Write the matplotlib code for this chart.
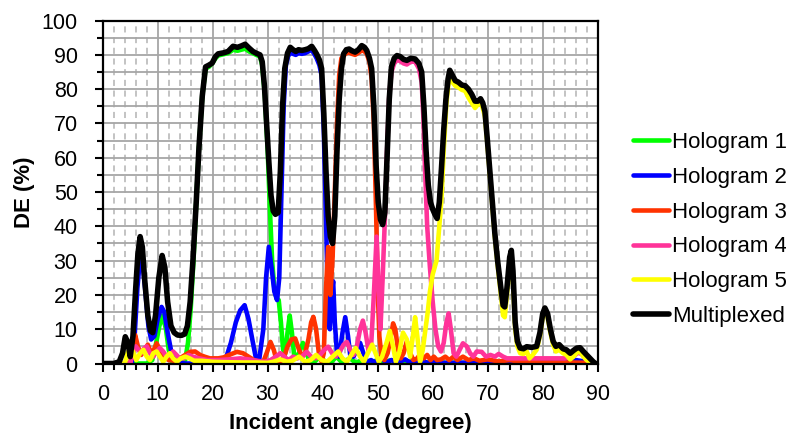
import numpy as np
import matplotlib
matplotlib.use("Agg")
from matplotlib import pyplot as plt
from matplotlib.ticker import MultipleLocator

plt.rcParams['font.family'] = ['Liberation Sans', 'DejaVu Sans']

# Hologram 1 (green)
h1_x = [0, 8, 9, 9.6, 10.3, 10.9, 11.5, 12.0, 12.6, 14.0, 15.0, 15.5, 16.0, 16.5, 17.0, 17.5, 18.1, 18.7,
        19.3, 19.9, 20.5, 21.0, 22.0, 22.8, 23.7, 24.5, 25.2, 25.9, 26.6, 27.3, 27.9, 28.6, 29.0, 29.5,
        30.0, 30.4, 30.8, 31.2, 31.6, 32.0, 32.4, 32.8, 33.2, 33.6, 34.0, 34.4, 34.8, 35.2, 35.8, 36.4,
        36.9, 37.5, 38.5, 39.5, 40.5, 41.5, 42.5, 43.5, 45, 46, 47.5, 48.5, 50, 51, 52.5, 54, 56, 60, 70, 89]
h1_y = [0, 0, 1, 5, 11, 14, 10, 4, 0.5, 0, 1, 6, 16, 30, 47, 63, 78, 86,
        86.5, 87.5, 89, 89.8, 90.2, 90.5, 91.5, 91.2, 91.5, 91.8, 91, 90.5, 90, 89.5, 87, 78,
        62, 45, 30, 22, 19, 18.5, 12, 4, 3, 9, 14, 9, 2.5, 1.5, 3.5, 6,
        4, 1, 0.5, 2, 0.5, 0.3, 2, 0.3, 1.5, 0.2, 1.2, 0.2, 1, 0.2, 1, 0.2, 0.5, 0.2, 0.1, 0]

# Hologram 2 (blue)
h2_x = [0, 5.3, 5.8, 6.3, 6.8, 7.2, 7.7, 8.3, 8.8, 9.4, 10.0, 10.7, 11.2, 11.8, 12.4, 13.0, 14.0, 15.0,
        21.5, 22.5, 23.3, 24.2, 25.0, 25.8, 26.5, 27.2, 27.8, 28.4, 29.2, 29.7, 30.2, 30.7, 31.2, 31.7,
        32.1, 32.5, 32.9, 33.3, 33.7, 34.1, 34.6, 35.1, 35.6, 36.2, 36.8, 37.4, 38.0, 38.5, 38.9, 39.4,
        39.8, 40.2, 40.6, 41.0, 41.3, 41.6, 41.9, 42.2, 42.6, 43.0, 43.6, 44.1, 44.6, 45.0, 45.6, 46.2,
        46.8, 47.4, 48.0, 48.8, 49.5, 50.5, 51.5, 52.5, 53.5, 55, 56, 58, 59, 60, 62, 70, 80, 86, 88, 89]
h2_y = [0, 0, 8, 22, 31, 30, 22, 11, 7, 8, 13, 16.5, 15, 9, 4, 1.5, 0.2, 0,
        0, 2, 6, 12, 15.5, 17, 13, 7, 2, 0.5, 10, 25, 34, 28, 21, 18.5,
        25, 50, 75, 87, 89.5, 90.8, 90.3, 90, 90.5, 90.3, 90.5, 91, 91.5, 90.2, 89, 87,
        84, 68, 42, 15, 10, 20, 24, 12, 3, 2, 9, 13.5, 8, 2.5, 2, 4,
        6, 3, 0.5, 1, 0.3, 2, 0.2, 1, 0.2, 1.2, 0.2, 1, 0.2, 0.5, 0.2, 0.3, 0.5, 1, 0.5, 0]

# Hologram 3 (red)
h3_x = [0, 5.0, 5.5, 5.9, 6.4, 7.0, 7.6, 8.2, 8.8, 9.3, 9.8, 10.4, 11.0, 12.0, 13.0, 14.0, 15.0, 15.9,
        16.8, 17.7, 18.5, 19.5, 21, 22, 23, 24.4, 25.5, 26.5, 27.5, 28.5, 29.2, 29.8, 30.5, 31.1, 31.6,
        32.3, 33, 33.6, 34.3, 35.0, 35.7, 36.3, 36.8, 37.4, 37.9, 38.3, 38.8, 39.3, 39.8, 40.2, 40.6,
        41.0, 41.4, 41.8, 42.2, 42.6, 43.0, 43.4, 43.8, 44.3, 44.8, 45.3, 45.9, 46.5, 47.1, 47.6, 48.0,
        48.5, 48.9, 49.3, 49.7, 50.0, 50.3, 50.7, 51.2, 51.8, 52.3, 52.8, 53.2, 53.7, 54.2, 54.7, 55.3,
        55.9, 56.5, 57.2, 57.8, 58.4, 59.0, 59.6, 60.2, 60.8, 61.5, 62.3, 63.0, 63.8, 64.5, 65.5, 66.5,
        67.5, 68.5, 70, 72, 74, 76, 80, 85, 88]
h3_y = [0, 0, 6, 8.3, 5, 2.5, 4, 5.5, 3, 4, 5.9, 4, 2, 1, 0.8, 1.5, 2.5, 3.4,
        3.5, 2.5, 2, 1.5, 1.5, 1.8, 2.5, 3.4, 3, 2, 1, 0.5, 0.5, 3, 6.3, 4, 1,
        0.5, 2, 5, 7, 7.3, 4, 2, 3, 7, 12, 13.6, 10, 3, 0.5, 3, 22,
        34, 20, 31, 50, 70, 84, 89, 89.8, 90.5, 90.7, 90.3, 90, 90.6, 91.3, 91, 90.3,
        88, 83, 70, 45, 22, 8, 2, 1, 3, 7, 11.7, 10, 4, 1.5, 3, 6.5,
        3, 1, 1.5, 3, 1.5, 2.5, 1, 2, 1, 1.2, 2, 1, 2, 1, 2, 1,
        1.5, 0.8, 1.2, 0.6, 1, 0.5, 0.3, 0.3, 0.2]

# Hologram 4 (pink)
h4_x = [0, 5.0, 5.5, 6.0, 6.5, 7.0, 7.5, 8.0, 8.6, 9.2, 9.8, 10.4, 11.0, 11.6, 12.2, 12.8, 13.4, 14.0,
        14.8, 15.6, 16.4, 17.5, 19, 21, 23, 25, 26.5, 28, 29.5, 30.5, 31.5, 32.3, 33.0, 33.8, 34.6, 35.4,
        36.2, 37.1, 37.9, 38.7, 39.5, 40.3, 41.0, 41.7, 42.4, 43.1, 43.8, 44.4, 45.0, 45.6, 46.2, 46.8,
        47.3, 47.8, 48.3, 48.8, 49.3, 49.8, 50.2, 50.5, 50.9, 51.3, 51.7, 52.1, 52.5, 53.0, 53.5, 54.1,
        54.7, 55.3, 56.0, 56.8, 57.5, 58.0, 58.3, 58.6, 59.0, 59.5, 60.0, 60.5, 61.0, 61.5, 62.0, 62.5,
        62.9, 63.3, 63.8, 64.3, 64.9, 65.5, 66.2, 66.8, 67.4, 68.0, 68.9, 69.7, 70.5, 71.3, 72.0, 72.8,
        73.5, 75, 78, 82, 84, 85.5, 86.5, 87.3, 88, 88.7]
h4_y = [0, 0, 3, 5, 4, 3, 4.4, 5, 3, 2, 3.5, 4.5, 3.5, 2, 2.5, 3.5, 2.5, 1.5,
        1.5, 2.5, 2, 1.5, 1, 1, 1.2, 1.5, 1.2, 0.8, 0.5, 1, 2, 3, 2, 1, 2, 1.5,
        2, 3.4, 2, 1.5, 2.5, 4, 4.9, 3, 2, 3.5, 5.5, 6.3, 4, 2.5, 5, 10,
        12.5, 9, 4, 5, 20, 37, 20, 10, 25, 42, 62, 78, 85, 87.5, 88.5, 88.2,
        87.5, 87.2, 88, 88, 86, 82, 72, 57, 40, 28, 18, 10, 5, 3.5, 6, 12,
        14.6, 10, 3, 2, 4, 5.9, 5, 3, 2, 3.5, 3.4, 2, 2.5, 2, 2.8, 2,
        1.5, 1.5, 1.5, 1.5, 1.5, 2, 3.2, 2.5, 1, 0.2]

# Hologram 5 (yellow)
h5_x = [0, 4.0, 4.5, 5.0, 5.5, 6.1, 6.8, 7.4, 8.0, 8.6, 9.2, 9.8, 10.4, 11.0, 11.6, 12.2, 12.8, 13.5,
        14.2, 15.0, 15.8, 16.6, 18, 20, 22, 25, 28, 30, 31, 32.3, 33.5, 34.5, 35.7, 36.8, 37.8, 38.8,
        39.8, 40.8, 41.8, 42.8, 43.6, 44.4, 45.2, 46.0, 46.8, 47.5, 48.2, 49.0, 49.6, 50.2, 50.8, 51.6,
        52.2, 52.8, 53.3, 53.9, 54.6, 55.3, 55.9, 56.4, 56.8, 57.2, 57.7, 58.2, 58.6, 59.1, 59.5, 60.0,
        60.7, 61.1, 61.6, 62.0, 62.5, 62.9, 63.2, 63.6, 64.1, 64.7, 65.3, 65.9, 66.5, 67.1, 67.7, 68.2,
        68.7, 69.1, 69.5, 69.9, 70.4, 70.9, 71.3, 71.8, 72.4, 72.8, 73.1, 73.5, 74.0, 74.3, 74.6, 75.0,
        75.4, 75.9, 76.5, 77.1, 77.6, 78.2, 78.9, 79.5, 80.0, 80.4, 80.9, 81.4, 81.9, 82.4, 83.0, 83.7,
        84.3, 85.0, 85.6, 86.2, 86.8, 87.4, 88.0, 88.6, 89.2]
h5_y = [0, 0, 3, 4.5, 3.5, 1, 3, 4, 2, 1, 3, 3.5, 2, 0.5, 2, 3, 1.5, 0.5,
        1.5, 2, 1.5, 0.8, 0.8, 0.5, 0.4, 0.3, 0.3, 0.2, 0.5, 1.2, 0.5, 0.8, 2, 0.5, 1, 2.5,
        1, 0.5, 2, 3.5, 1.5, 0.5, 2.5, 4.5, 2, 0.5, 3, 5.5, 3, 0.5, 2, 6,
        9.5, 5, 0.5, 3, 9, 7, 2, 8, 13.5, 8, 0.5, 4, 9, 15, 21, 26,
        30, 38, 48, 62, 76, 82, 83.5, 82, 81, 80.5, 79.8, 79.5, 77.5, 76, 74.5, 75.5,
        76, 74.5, 72, 65, 55, 45, 37, 29, 20, 14, 13.5, 20, 29, 31, 24, 10,
        5, 3, 2.8, 3.5, 1.5, 2.5, 4, 8, 13.5, 15.2, 13.5, 9, 5.5, 3.5, 4, 3,
        2.5, 1.2, 2, 3.2, 3.5, 2, 1, 0.3, 0]

# Multiplexed (black)
mx_x = [0, 2, 3, 3.6, 4.1, 4.6, 5.0, 5.5, 6.0, 6.4, 6.8, 7.2, 7.6, 8.2, 8.7, 9.1, 9.6, 10.2, 10.8, 11.3,
        11.8, 12.4, 13.0, 13.6, 14.3, 14.9, 15.4, 15.9, 16.4, 17.0, 17.5, 18.1, 18.7, 19.3, 19.9, 20.5,
        21.0, 22.0, 22.8, 23.7, 24.5, 25.2, 25.9, 26.6, 27.3, 27.9, 28.6, 29.0, 29.4, 29.8, 30.2, 30.6,
        31.0, 31.4, 31.9, 32.3, 32.7, 33.1, 33.6, 34.1, 34.6, 35.1, 35.6, 36.2, 36.8, 37.4, 38.0, 38.5,
        38.9, 39.4, 39.8, 40.2, 40.6, 41.0, 41.4, 41.8, 42.2, 42.6, 43.0, 43.4, 43.8, 44.3, 44.8, 45.3,
        45.9, 46.5, 47.1, 47.6, 48.0, 48.5, 48.9, 49.3, 49.7, 50.1, 50.5, 50.9, 51.3, 51.7, 52.1, 52.5,
        53.0, 53.5, 54.1, 54.7, 55.3, 56.0, 56.8, 57.5, 58.0, 58.4, 58.8, 59.2, 59.6, 60.0, 60.4, 60.8,
        61.2, 61.6, 62.0, 62.4, 62.8, 63.1, 63.6, 64.1, 64.7, 65.3, 65.9, 66.5, 67.1, 67.7, 68.2, 68.7,
        69.1, 69.5, 69.9, 70.4, 70.9, 71.3, 71.8, 72.4, 72.8, 73.1, 73.5, 74.0, 74.3, 74.6, 75.0, 75.4,
        75.9, 76.5, 77.1, 78.0, 78.9, 79.5, 80.0, 80.4, 80.9, 81.4, 81.9, 82.4, 83.0, 83.7, 84.3, 85.0,
        85.6, 86.2, 86.8, 87.4, 88.0, 88.6, 89.2, 89.6]
mx_y = [0, 0, 0.5, 3, 7.8, 6, 2, 8, 22, 32, 37, 34, 25, 14, 9.5, 9, 14, 25, 31.5, 28,
        18, 11, 9, 8.3, 8.2, 8.6, 11, 18, 30, 47, 63, 78, 86.5, 87, 87.6, 89.5,
        90.3, 90.6, 91, 92.5, 92.2, 92.6, 93.1, 92, 91, 90.5, 90, 88, 81, 70, 59, 49,
        44.5, 43.5, 44, 56, 75, 86, 90.5, 92.2, 91.5, 91, 91.5, 91.3, 91.5, 91.8, 92.5, 91.3,
        90.2, 88.5, 86, 73, 56, 43, 37, 35, 43, 62, 77, 86, 90.3, 91.5, 91.7, 91.2,
        90.8, 91.5, 92.7, 92.2, 91.3, 89, 86, 75, 58, 47, 42, 40.5, 44, 60, 77, 86.5,
        89, 89.8, 89.5, 88.7, 88.4, 89, 88.8, 87.5, 85, 75, 62, 52, 47, 45, 43.5, 42.3,
        47, 57, 68, 77, 83, 85.5, 84, 82.5, 82, 81.2, 81, 80, 78.5, 76.5, 76.5, 77.2,
        76, 73.5, 66, 56, 46, 38, 30, 22, 17, 16.5, 22, 31, 33, 27, 12, 6.5,
        4.5, 4.3, 4.9, 4.7, 5, 9, 14.5, 16.2, 14.5, 10, 6.5, 5, 5.5, 4.3, 4, 3,
        3.8, 4.5, 4.6, 3.5, 2.5, 1.5, 0.5, 0]

labels = ['Hologram 1', 'Hologram 2', 'Hologram 3', 'Hologram 4', 'Hologram 5', 'Multiplexed']
colors = ['#00FF00', '#0000FF', '#FF3300', '#FF3399', '#FFFF00', '#000000']

fig = plt.figure(figsize=(7.86, 4.33), dpi=100)
ax = fig.add_axes([0.1307, 0.1605, 0.6297, 0.792])

series = [(h1_x, h1_y), (h2_x, h2_y), (h3_x, h3_y), (h4_x, h4_y), (h5_x, h5_y), (mx_x, mx_y)]
for (xs, ys), lab, c in zip(series, labels, colors):
    lw = 4.0 if lab == 'Multiplexed' else 3.3
    ax.plot(xs, ys, color=c, lw=lw, label=lab, solid_joinstyle='round', solid_capstyle='round')

ax.set_xlim(0, 90)
ax.set_ylim(0, 100)
ax.xaxis.set_major_locator(MultipleLocator(10))
ax.xaxis.set_minor_locator(MultipleLocator(2))
ax.yaxis.set_major_locator(MultipleLocator(10))
ax.yaxis.set_minor_locator(MultipleLocator(5))

# grid
ax.grid(which='major', axis='x', color='#A6A6A6', lw=1.3, ls='-')
ax.grid(which='minor', axis='x', color='#B3B3B3', lw=1.1, ls=(0, (4, 3)))
ax.grid(which='both', axis='y', color='#A6A6A6', lw=1.3, ls='-')
ax.set_axisbelow(True)

for s in ax.spines.values():
    s.set_linewidth(1.6)
ax.tick_params(which='major', direction='out', length=6, width=1.5, labelsize=15.5, pad=9)
ax.tick_params(which='minor', direction='out', length=4, width=1.5)
ax.tick_params(axis='y', which='major', pad=12)

ax.set_xlabel('Incident angle (degree)', fontsize=16, fontweight='bold')
ax.set_ylabel('DE (%)', fontsize=16, fontweight='bold')
ax.xaxis.set_label_coords(0.5, -0.145)
ax.yaxis.set_label_coords(-0.137, 0.5)

fig.legend(loc='center left', bbox_to_anchor=(633 / 786, 0.470), bbox_transform=fig.transFigure,
           frameon=False, fontsize=16, handlelength=1.62, handletextpad=0.15, labelspacing=0.62,
           borderpad=0, borderaxespad=0)

fig.savefig('out.png', dpi=100)
